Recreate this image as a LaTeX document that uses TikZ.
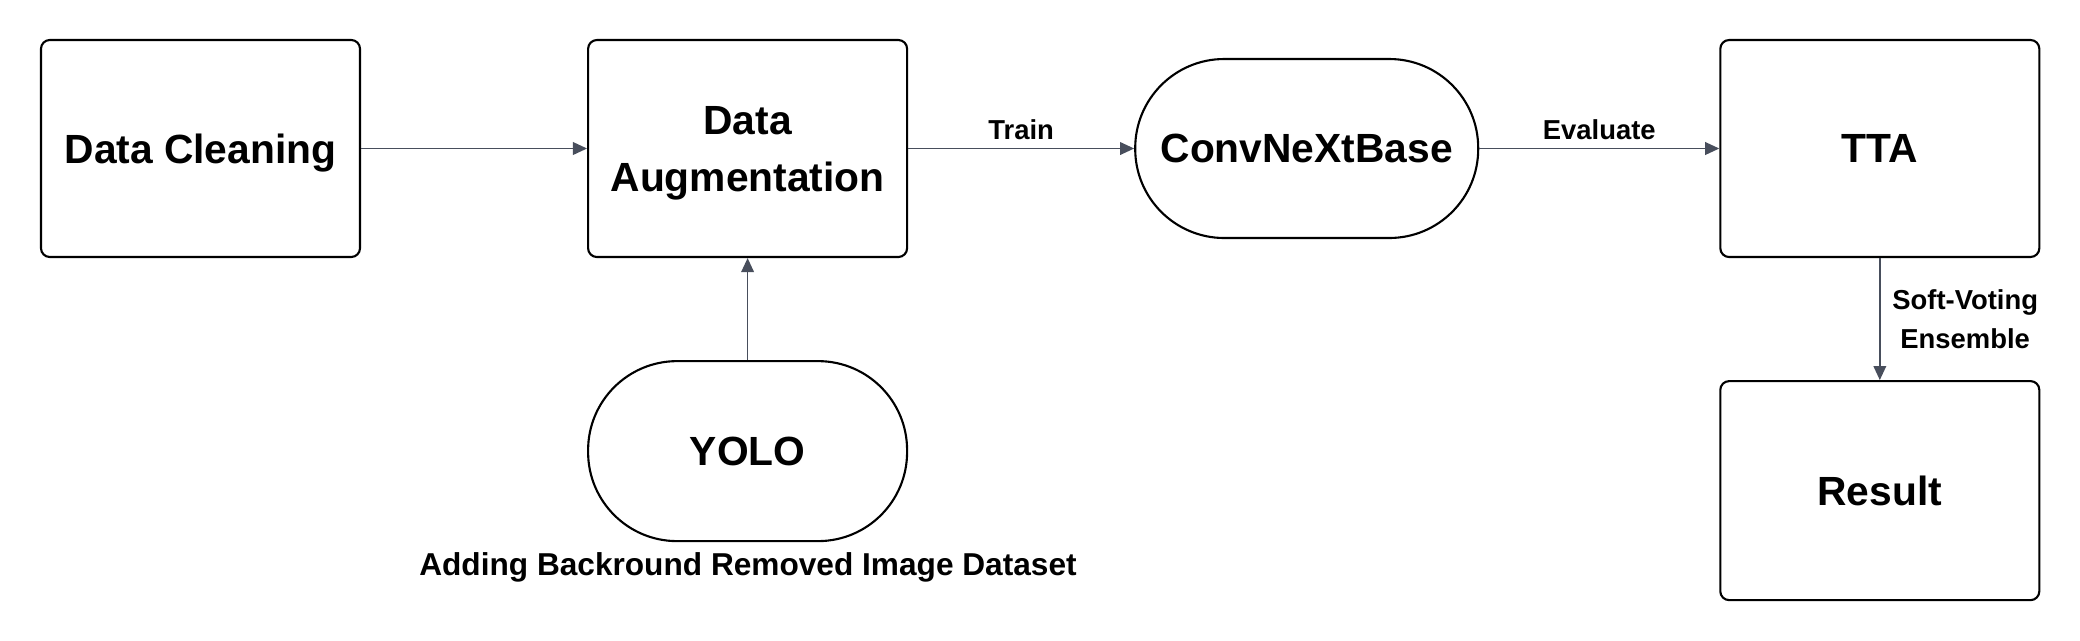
\documentclass[tikz,border=0pt]{standalone}
\usepackage{fontspec}
\setmainfont{Liberation Sans}
\usepackage{tikz}
\usetikzlibrary{arrows.meta, positioning, calc}
\definecolor{flowgray}{RGB}{72,78,92}

\begin{document}
\begin{tikzpicture}[
  node distance=2.26cm,
  box/.style={rectangle, draw=black, line width=0.6pt, rounded corners=2.5pt, minimum width=3.19cm, minimum height=2.17cm, align=center, text depth=0pt, font=\fontsize{11.6}{16.2}\selectfont\bfseries},
  pill/.style={box, rounded corners=0.89cm, minimum height=1.79cm},
  lbl/.style={text=black, font=\fontsize{7.8}{11}\selectfont\bfseries, align=center},
  arrow/.style={->, >={Triangle[length=4pt,width=3.6pt]}, line width=0.45pt, flowgray}
]
\useasboundingbox (0,0) rectangle (20.8,-6.4);

\node[box] (clean) at (2.005,-1.485) {Data Cleaning};
\node[box, right=of clean] (aug) {Data\\Augmentation};
\node[pill, right=of aug, minimum width=3.43cm] (conv) {ConvNeXtBase};
\node[box, right=2.40cm of conv] (tta) {TTA};
\node[box, below=1.22cm of tta, minimum height=2.19cm] (result) {Result};
\node[pill, below=1.02cm of aug, minimum height=1.8cm] (yolo) {YOLO};
\node[lbl, font=\fontsize{9}{11}\selectfont\bfseries] (note) at (7.48,-5.67) {Adding Backround Removed Image Dataset};

\draw[arrow] (clean) -- (aug);
\draw[arrow] (aug) -- node[lbl, above=-1pt] {Train} (conv);
\draw[arrow] (conv) -- node[lbl, above=-1pt] {Evaluate} (tta);
\draw[arrow] (yolo) -- (aug);
\draw[arrow] (tta) -- node[lbl, right=0pt] {Soft-Voting\\Ensemble} (result);
\end{tikzpicture}
\end{document}
